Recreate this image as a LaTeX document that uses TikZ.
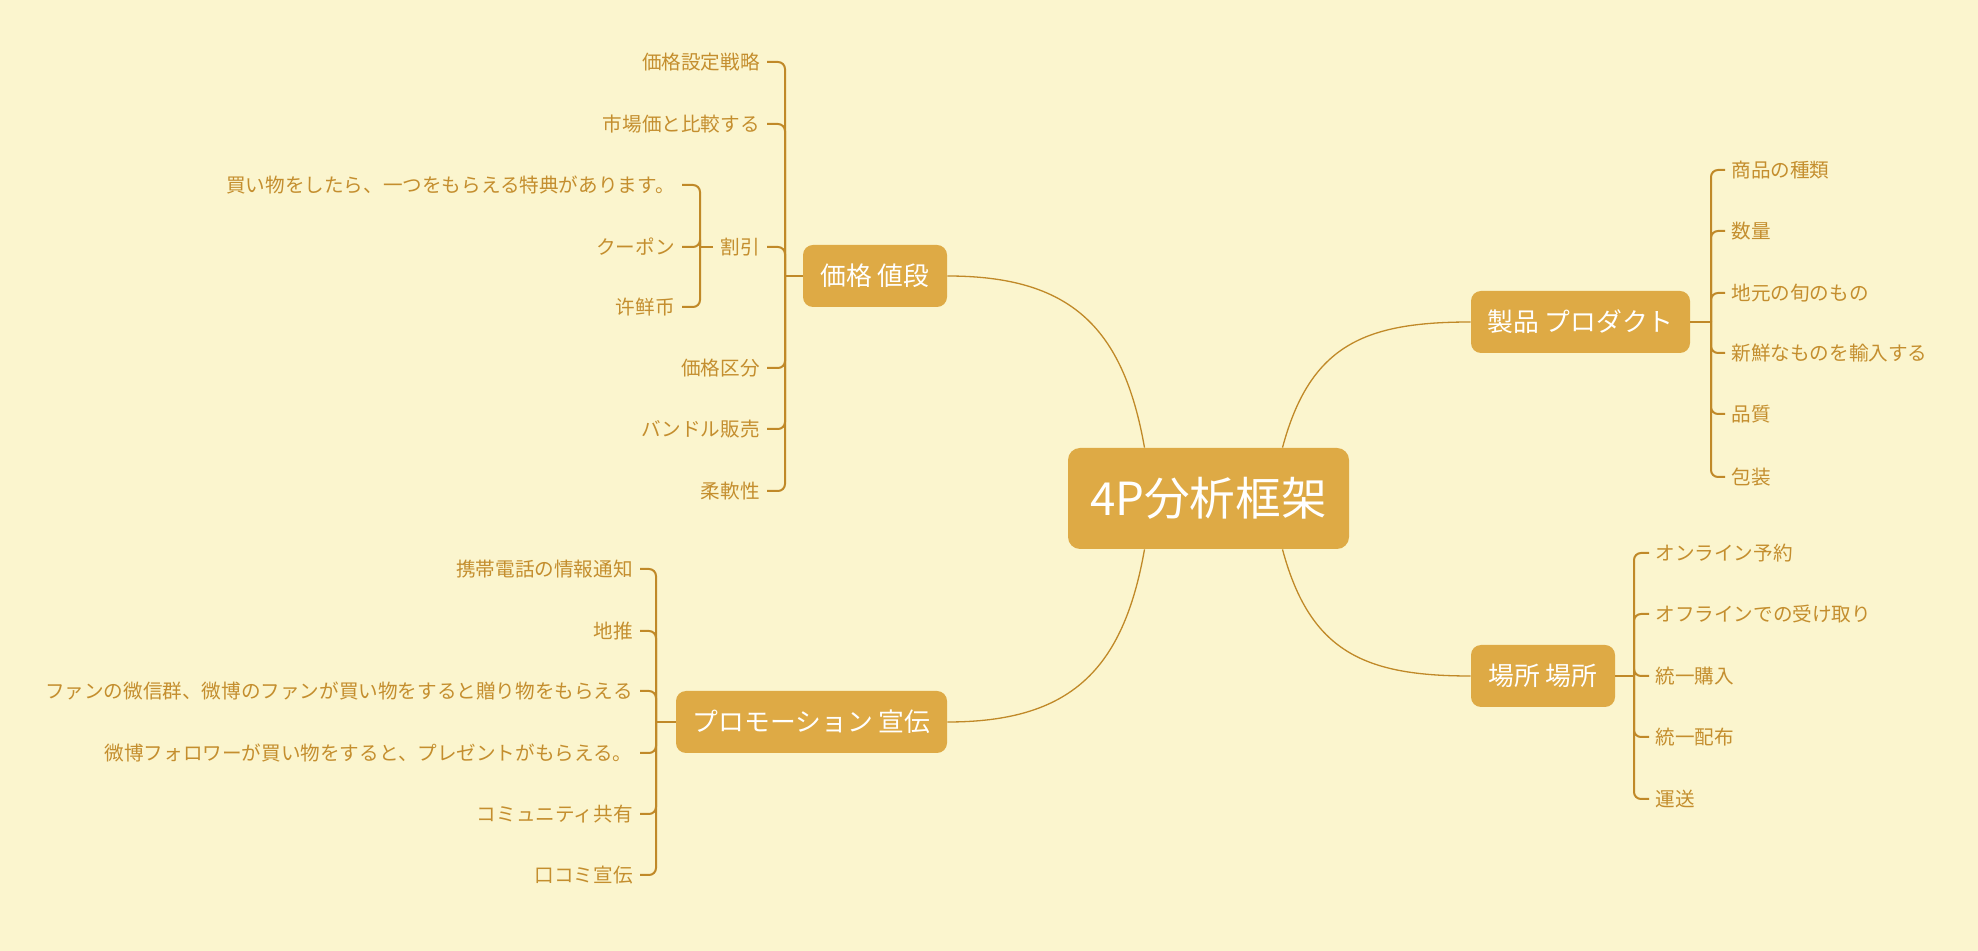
\documentclass[tikz,border=0pt]{standalone}
\usepackage{fontspec}
\newfontfamily\jpfont{Noto Sans CJK JP}
\usetikzlibrary{positioning,calc}
\definecolor{cBg}{RGB}{251,245,206}
\definecolor{cTopic}{RGB}{222,170,69}
\definecolor{cLine}{RGB}{192,137,40}
\definecolor{cLeaf}{RGB}{196,142,46}

\begin{document}
\begin{tikzpicture}[
  x=0.5pt, y=0.5pt,
  font=\jpfont,
  root/.style={rounded corners=6pt, fill=cTopic, text=white, inner sep=0pt,
    minimum width=140.5pt, minimum height=50.5pt,
    font=\jpfont\fontsize{22.8}{26}\selectfont},
  topic/.style={rounded corners=5pt, fill=cTopic, text=white, inner sep=0pt,
    minimum width=#1, minimum height=31pt,
    font=\jpfont\fontsize{12.9}{15}\selectfont},
  leafL/.style={anchor=east, text=cLeaf, inner xsep=3.5pt, inner ysep=1pt,
    font=\jpfont\fontsize{9.8}{12}\selectfont},
  leafR/.style={leafL, anchor=west, inner xsep=3pt},
  link/.style={cLine, line width=1pt, rounded corners=3.5pt},
  curve/.style={cLine, line width=0.65pt},
]

\fill[cBg] (0,0) rectangle (1978,-951);
\useasboundingbox (0,0) rectangle (1978,-951);

% Central topic.
\node[root] (root) at (1208.5,-498.5) {4P分析框架};

% Price branch.
\node[topic=72pt] (price) at (875,-276) {価格 値段};
\coordinate (pricebus) at (785,-276);
\node[leafL] (pr1) at (767,-62) {価格設定戦略};
\node[leafL] (pr2) at (767,-124) {市場価と比較する};
\node[leafL] (pr3) at (767,-247) {割引};
\node[leafL] (pr4) at (767,-368) {価格区分};
\node[leafL] (pr5) at (767,-429) {バンドル販売};
\node[leafL] (pr6) at (767,-491) {柔軟性};

% Discount sub-branch.
\coordinate (discbus) at (700,-247);
\node[leafL] (ds1) at (682,-185) {買い物をしたら、一つをもらえる特典があります。};
\node[leafL] (ds2) at (682,-247) {クーポン};
\node[leafL] (ds3) at (682,-307) {许鲜币};

% Product branch.
\node[topic=109.5pt] (product) at (1580.5,-322) {製品 プロダクト};
\coordinate (prodbus) at (1711,-322);
\node[leafR] (pd1) at (1725,-170) {商品の種類};
\node[leafR] (pd2) at (1725,-231) {数量};
\node[leafR] (pd3) at (1725,-293) {地元の旬のもの};
\node[leafR] (pd4) at (1725,-353) {新鮮なものを輸入する};
\node[leafR] (pd5) at (1725,-414) {品質};
\node[leafR] (pd6) at (1725,-477) {包装};

% Place branch.
\node[topic=72pt] (place) at (1543,-676) {場所 場所};
\coordinate (placebus) at (1634,-676);
\node[leafR] (pl1) at (1649,-553) {オンライン予約};
\node[leafR] (pl2) at (1649,-614) {オフラインでの受け取り};
\node[leafR] (pl3) at (1649,-676) {統一購入};
\node[leafR] (pl4) at (1649,-737) {統一配布};
\node[leafR] (pl5) at (1649,-799) {運送};

% Promotion branch.
\node[topic=135.5pt] (promo) at (811.5,-722) {プロモーション 宣伝};
\coordinate (promobus) at (656,-722);
\node[leafL] (pm1) at (640,-569) {携帯電話の情報通知};
\node[leafL] (pm2) at (640,-631) {地推};
\node[leafL] (pm3) at (640,-691) {ファンの微信群、微博のファンが買い物をすると贈り物をもらえる};
\node[leafL] (pm4) at (640,-753) {微博フォロワーが買い物をすると、プレゼントがもらえる。};
\node[leafL] (pm5) at (640,-814) {コミュニティ共有};
\node[leafL] (pm6) at (640,-875) {口コミ宣伝};

% Root to topics.
\draw[curve] ([xshift=-32pt]root.north) to[out=100,in=0,looseness=1.2] (price.east);
\draw[curve] ([xshift=37pt]root.north) to[out=75,in=180,looseness=1.2] (product.west);
\draw[curve] ([xshift=37pt]root.south) to[out=-75,in=180,looseness=1.2] (place.west);
\draw[curve] ([xshift=-32pt]root.south) to[out=-100,in=0,looseness=1.2] (promo.east);

% Price links.
\draw[link] (price.west) -- (pricebus);
\draw[link] (pricebus) |- (pr1.east);
\draw[link] (pricebus) |- (pr2.east);
\draw[link] (pricebus) |- (pr3.east);
\draw[link] (pricebus) |- (pr4.east);
\draw[link] (pricebus) |- (pr5.east);
\draw[link] (pricebus) |- (pr6.east);
\draw[link] (pr3.west) -- (discbus);
\draw[link] (discbus) |- (ds1.east);
\draw[link] (discbus) |- (ds2.east);
\draw[link] (discbus) |- (ds3.east);

% Product links.
\draw[link] (product.east) -- (prodbus);
\draw[link] (prodbus) |- (pd1.west);
\draw[link] (prodbus) |- (pd2.west);
\draw[link] (prodbus) |- (pd3.west);
\draw[link] (prodbus) |- (pd4.west);
\draw[link] (prodbus) |- (pd5.west);
\draw[link] (prodbus) |- (pd6.west);

% Place links.
\draw[link] (place.east) -- (placebus);
\draw[link] (placebus) |- (pl1.west);
\draw[link] (placebus) |- (pl2.west);
\draw[link] (placebus) |- (pl3.west);
\draw[link] (placebus) |- (pl4.west);
\draw[link] (placebus) |- (pl5.west);

% Promotion links.
\draw[link] (promo.west) -- (promobus);
\draw[link] (promobus) |- (pm1.east);
\draw[link] (promobus) |- (pm2.east);
\draw[link] (promobus) |- (pm3.east);
\draw[link] (promobus) |- (pm4.east);
\draw[link] (promobus) |- (pm5.east);
\draw[link] (promobus) |- (pm6.east);

\end{tikzpicture}
\end{document}
